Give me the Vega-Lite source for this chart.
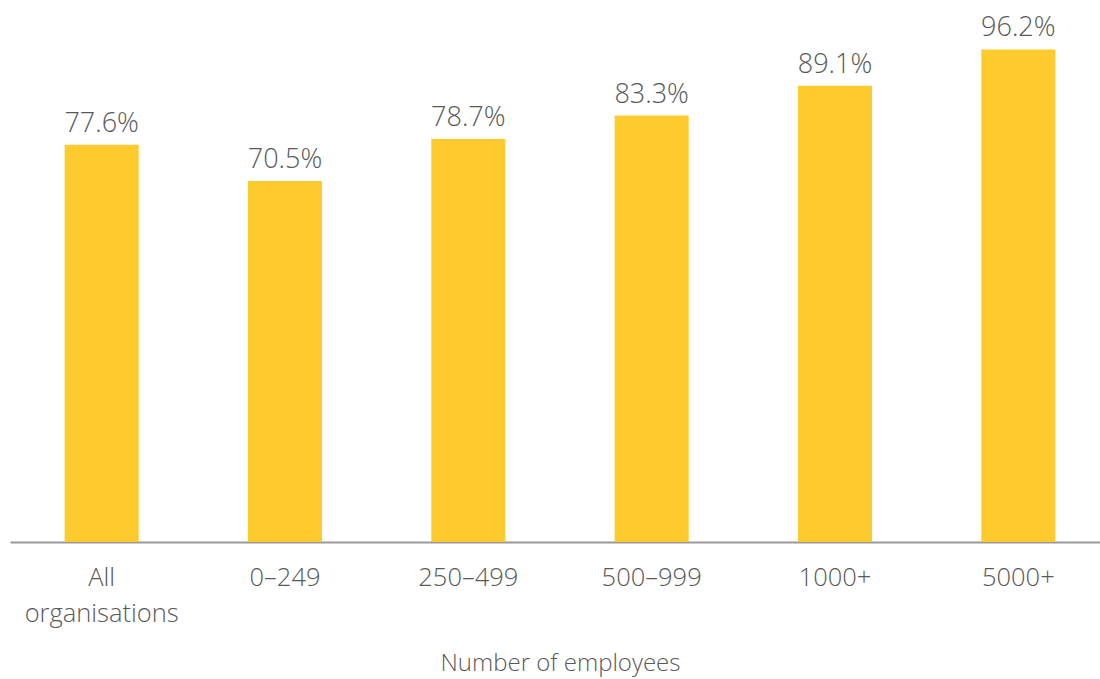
{
  "$schema": "https://vega.github.io/schema/vega-lite/v6.json",
  "autosize": {"type": "none"},
  "width": 1100,
  "height": 512,
  "padding": {"left": 10, "top": 30, "right": 0, "bottom": 137},
  "background": "white",
  "data": {"values": [
    {"group": "All organisations", "pct": 77.6},
    {"group": "0-249", "pct": 70.5},
    {"group": "250-499", "pct": 78.7},
    {"group": "500-999", "pct": 83.3},
    {"group": "1000+", "pct": 89.1},
    {"group": "5000+", "pct": 96.2}
  ]},
  "config": {"view": {"stroke": null}, "font": "Open Sans"},
  "encoding": {
    "x": {
      "field": "group", "type": "nominal", "sort": null,
      "scale": {"paddingInner": 0.596, "paddingOuter": 0.298},
      "axis": {
        "title": "Number of employees",
        "titleFont": "Open Sans", "titleFontWeight": 300, "titleFontSize": 24, "titleColor": "#595959", "titlePadding": 25,
        "labelFont": "Open Sans", "labelFontWeight": 300, "labelFontSize": 25.5, "labelColor": "#595959",
        "labelAngle": 0, "labelPadding": 23, "labelLineHeight": 36,
        "labelExpr": "datum.value == 'All organisations' ? ['All', 'organisations'] : replace(datum.value, '-', '–')",
        "ticks": false, "domainColor": "#999999", "domainWidth": 2
      }
    },
    "y": {
      "field": "pct", "type": "quantitative",
      "scale": {"domain": [0, 100]},
      "axis": null
    }
  },
  "layer": [
    {"mark": {"type": "bar", "color": "#FDCB2E"}},
    {
      "mark": {"type": "text", "baseline": "alphabetic", "dy": -13, "font": "Open Sans", "fontWeight": 300, "fontSize": 27, "color": "#595959",
        "text": {"expr": "format(datum.pct, '.1f') + '%'"}}
    }
  ]
}
